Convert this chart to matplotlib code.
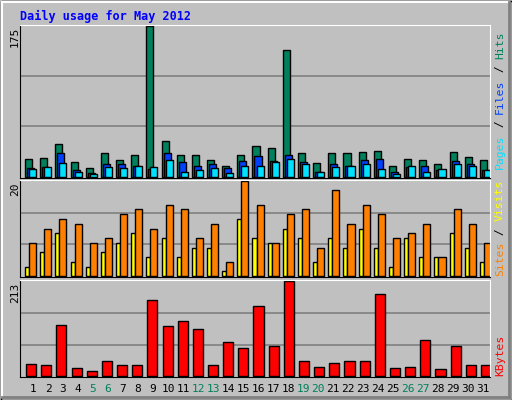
import matplotlib
matplotlib.use("Agg")
import matplotlib.pyplot as plt
from matplotlib.patches import Rectangle
import numpy as np

days = list(range(1, 32))
weekends = [5, 6, 12, 13, 19, 20, 26, 27]
hits = [21,22,38,17,10,27,19,25,175,41,25,25,19,13,25,36,33,147,28,16,27,27,29,30,13,21,19,15,29,23,19]
files = [10,11,28,8,4,15,15,13,9,28,17,13,15,10,18,24,18,25,17,6,15,13,19,21,6,11,12,8,18,15,8]
pages = [9,11,16,6,3,11,10,12,11,19,5,8,10,4,13,13,17,21,15,5,11,13,15,9,3,13,5,9,15,13,8]
visits = [7,10,12,11,7,8,13,14,10,15,14,8,11,3,20,15,7,13,14,6,18,11,15,13,8,9,11,4,14,11,7]
sites = [2,5,9,3,2,5,7,9,4,8,4,6,6,1,12,8,7,10,8,3,8,6,10,6,2,8,4,4,9,6,3]
kbytes = [28,26,115,19,12,33,26,26,171,112,124,105,26,77,63,157,68,213,33,21,30,33,33,185,19,21,82,16,68,26,26]

W, H = 512, 400
fig = plt.figure(figsize=(W/100, H/100), dpi=100)
fig.patch.set_facecolor("#C0C0C0")
bg = fig.add_axes([0, 0, 1, 1]); bg.set_axis_off(); bg.set_xlim(0, W); bg.set_ylim(H, 0)
bg.add_patch(Rectangle((0.5, 0.5), W-1, H-1, fill=False, ec="black", lw=1))
bg.plot([2, W-3], [2, 2], color="white", lw=1.5); bg.plot([2, 2], [2, H-3], color="white", lw=1.5)
bg.plot([2, W-3], [H-3, H-3], color="#808080", lw=2); bg.plot([W-3, W-3], [2, H-3], color="#808080", lw=2)
bg.text(20, 16, "Daily usage for May 2012", color="#0000FF", fontsize=8.5, fontweight="bold",
        family="DejaVu Sans Mono", va="center")

mono = "DejaVu Sans Mono"
def ax_at(y0, y1):
    a = fig.add_axes([20/W, 1-y1/H, 470/W, (y1-y0)/H])
    a.set_facecolor("#C0C0C0")
    a.set_xlim(0, 31*15); a.set_xticks([]); a.set_yticks([])
    for s in a.spines.values(): s.set_color("black")
    a.spines["top"].set_color("white"); a.spines["right"].set_color("white")
    return a

x = np.arange(31) * 15

def grid(a, m):
    for f in (1/3, 2/3):
        a.axhline(m*f, color="#808080", lw=1.2, zorder=0)

bk = dict(edgecolor="black", linewidth=1, align="edge", zorder=2)
a1 = ax_at(25, 178)
a1.set_ylim(-1.5, 176); grid(a1, 175)
a1.bar(x+5, hits, 7, color="#00805C", **bk)
a1.bar(x+7, files, 7, color="#0040FF", **bk)
a1.bar(x+9, pages, 7, color="#00E0FF", **bk)
a2 = ax_at(180, 277)
a2.set_ylim(-0.2, 20.2); grid(a2, 20)
a2.bar(x+5, sites, 4, color="#FFFF00", **bk)
a2.bar(x+9, visits, 7, color="#FF8000", **bk)
a3 = ax_at(280, 377)
a3.set_ylim(-2, 216); grid(a3, 213)
a3.bar(x+6, kbytes, 10, color="#FF0000", **bk)

for lab, yy in (("175", 27), ("20", 182), ("213", 283)):
    bg.text(15, yy, lab, rotation=90, ha="center", va="top", fontsize=8, family=mono)

for i, d in enumerate(days):
    bg.text(20 + i*15 + 13, 389, str(d), ha="center", va="center", fontsize=8, family=mono,
            color="#00805C" if d in weekends else "black")

def vlabel(parts, ybottom):
    y = ybottom
    cw = 6.9
    for txt, col in parts:
        bg.text(500, y, txt, rotation=90, ha="center", va="bottom", fontsize=8.2, family=mono, color=col)
        y -= cw * len(txt)

vlabel([("Pages", "#00E0FF"), (" / ", "#000000"), ("Files", "#0040FF"), (" / ", "#000000"), ("Hits", "#00805C")], 169)
vlabel([("Sites", "#FF8000"), (" / ", "#000000"), ("Visits", "#FFFF00")], 276)
vlabel([("KBytes", "#FF0000")], 376)

fig.savefig("out.png", dpi=100, facecolor=fig.get_facecolor())
